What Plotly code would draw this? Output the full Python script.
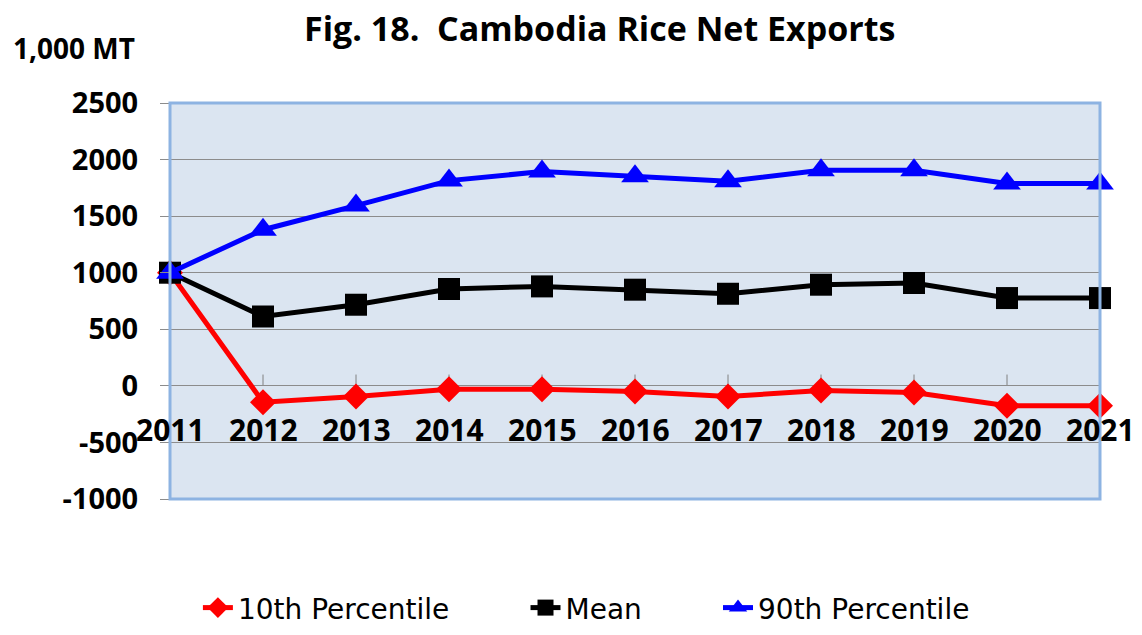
import plotly.graph_objects as go

years = [2011, 2012, 2013, 2014, 2015, 2016, 2017, 2018, 2019, 2020, 2021]
p10 = [1000, -144, -94, -29, -30, -50, -94, -41, -59, -176, -176]
mean = [1000, 613, 717, 856, 879, 850, 814, 894, 909, 776, 776]
p90 = [1000, 1380, 1593, 1814, 1894, 1852, 1808, 1905, 1905, 1788, 1788]
year_labels = [str(y) for y in years]
y_ticks = [2500, 2000, 1500, 1000, 500, 0, -500, -1000]
series_names = ["10th Percentile", "Mean", "90th Percentile"]
title_text = "Fig. 18.  Cambodia Rice Net Exports"

FONT = "Open Sans"
LEG_FONT = "DejaVu Sans"
PAD = "\u00a0" * 8

fig = go.Figure()
fig.add_trace(go.Scatter(x=years, y=p10, name=series_names[0] + PAD, mode="lines+markers",
                         line=dict(color="#ff0000", width=5),
                         marker=dict(symbol="diamond", size=20, color="#ff0000"),
                         cliponaxis=False))
fig.add_trace(go.Scatter(x=years, y=mean, name=series_names[1] + PAD, mode="lines+markers",
                         line=dict(color="#000000", width=5),
                         marker=dict(symbol="square", size=22, color="#000000"),
                         cliponaxis=False))
fig.add_trace(go.Scatter(x=years, y=p90, name=series_names[2], mode="lines+markers",
                         line=dict(color="#0000ff", width=5),
                         marker=dict(symbol="triangle-up", size=24, color="#0000ff"),
                         cliponaxis=False))

# small tick marks on the zero line
for yr in years:
    fig.add_shape(type="line", xref="x", yref="y", x0=yr, x1=yr, y0=0, y1=100,
                  line=dict(color="#808080", width=1), layer="below")

# x labels placed at the zero line
for yr, lab in zip(years, year_labels):
    fig.add_annotation(x=yr, y=0, xref="x", yref="y", text=f"<b>{lab}</b>",
                       showarrow=False, yanchor="middle", yshift=-44,
                       font=dict(family=FONT, size=30, color="black"))

fig.add_shape(type="rect", xref="paper", yref="paper", x0=0, x1=1, y0=0, y1=1,
              line=dict(color="#8db3e2", width=3), layer="above")

fig.add_annotation(x=-0.171, y=1.14, xref="paper", yref="paper", text="<b>1,000 MT</b>",
                   showarrow=False, xanchor="left", yanchor="middle",
                   font=dict(family=FONT, size=28, color="black"))

# chart title
fig.add_annotation(x=0.462, y=1.19, xref="paper", yref="paper", text=f"<b>{title_text}</b>",
                   showarrow=False, xanchor="center", yanchor="middle",
                   font=dict(family=FONT, size=34, color="black"))

fig.update_layout(
    width=1126, height=619,
    margin=dict(l=162, r=34, t=95, b=128, autoexpand=False),
    paper_bgcolor="white", plot_bgcolor="#dbe5f1",
    xaxis=dict(range=[2011, 2021], showticklabels=False, showgrid=False, zeroline=False,
               tickvals=years, automargin=False),
    yaxis=dict(range=[-1000, 2500], tickvals=y_ticks, ticktext=[f"<b>{v}</b>" for v in y_ticks],
               showgrid=True, gridcolor="#8c8c8c", gridwidth=1, zeroline=True,
               zerolinecolor="#8c8c8c", zerolinewidth=1,
               ticks="outside", ticklen=9, tickcolor="#8c8c8c", ticklabelstandoff=16,
               automargin=False,
               tickfont=dict(family=FONT, size=29, color="black")),
    legend=dict(orientation="h", x=0.030, xanchor="left", y=-0.275, yanchor="middle",
                font=dict(family=LEG_FONT, size=28, color="black"),
                traceorder="normal", bgcolor="rgba(0,0,0,0)"),
    showlegend=True,
)

fig.write_html("out.html")
